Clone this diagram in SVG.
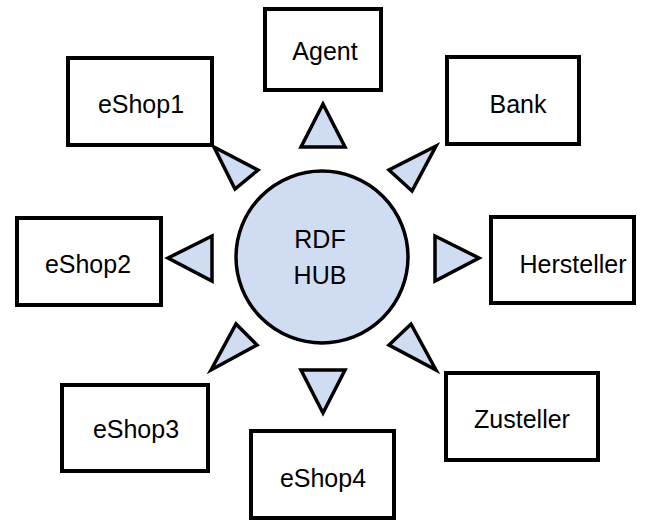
<svg xmlns="http://www.w3.org/2000/svg" width="664" height="526" viewBox="0 0 664 526">
<style>
.box{fill:#ffffff;stroke:#000000;stroke-width:4}
.lbl{font-family:"Liberation Sans",Arial,sans-serif;font-size:25px;fill:#000000;text-anchor:middle}
.tri{fill:#d0dcf1;stroke:#000000;stroke-width:3.5;stroke-linejoin:miter}
.hub{fill:#d0dcf1;stroke:#000000;stroke-width:3.5}
</style>
<rect x="0" y="0" width="664" height="526" fill="#ffffff"/>
<g id="connectors">
<polygon class="tri" points="323,104 301,147 345,147"/>
<polygon class="tri" points="214,147 258,170 235,189"/>
<polygon class="tri" points="436,146 389,170 412,191"/>
<polygon class="tri" points="168,258 212,236 212,281"/>
<polygon class="tri" points="479,258 435,236 435,281"/>
<polygon class="tri" points="211,370 236,324 257,345"/>
<polygon class="tri" points="323,413 301,370 345,370"/>
<polygon class="tri" points="436,370 411,324 389,345"/>
</g>
<g id="hub">
<circle class="hub" cx="322" cy="257" r="86"/>
<text class="lbl" x="320" y="248">RDF</text>
<text class="lbl" x="320" y="284">HUB</text>
</g>
<g id="agent"><rect class="box" x="265" y="9" width="116" height="81"/><text class="lbl" x="325" y="60">Agent</text></g>
<g id="eshop1"><rect class="box" x="68" y="58" width="144" height="87"/><text class="lbl" x="141" y="113">eShop1</text></g>
<g id="bank"><rect class="box" x="447" y="57" width="132" height="87"/><text class="lbl" x="518" y="113">Bank</text></g>
<g id="eshop2"><rect class="box" x="17" y="218" width="144" height="87"/><text class="lbl" x="88" y="273">eShop2</text></g>
<g id="hersteller"><rect class="box" x="491" y="217" width="143" height="86"/><text class="lbl" x="573" y="273">Hersteller</text></g>
<g id="eshop3"><rect class="box" x="62" y="385" width="146" height="86"/><text class="lbl" x="136" y="438">eShop3</text></g>
<g id="eshop4"><rect class="box" x="251" y="431" width="143" height="87"/><text class="lbl" x="323" y="487">eShop4</text></g>
<g id="zusteller"><rect class="box" x="446" y="373" width="152" height="87"/><text class="lbl" x="522" y="428">Zusteller</text></g>
</svg>
